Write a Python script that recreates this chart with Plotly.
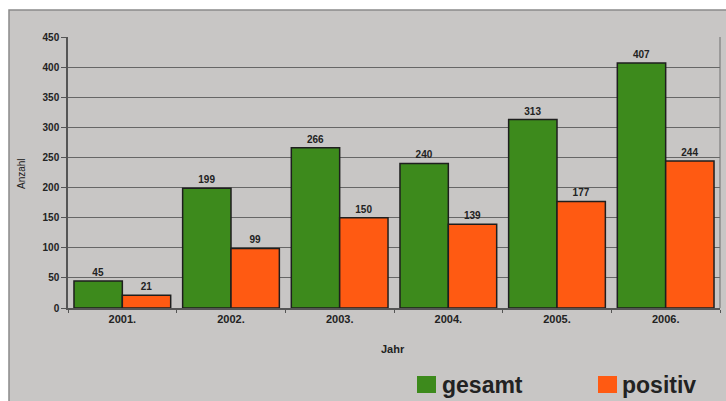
import plotly.graph_objects as go

years = ["2001.", "2002.", "2003.", "2004.", "2005.", "2006."]
gesamt = [45, 199, 266, 240, 313, 407]
positiv = [21, 99, 150, 139, 177, 244]

GREEN = "#3d8a1c"
ORANGE = "#ff5a12"
BG = "#c8c6c5"
FONT = "Liberation Sans"

L, R, T, B = 68, 6, 37, 93
W, H = 726, 401
pw, ph = W - L - R, H - T - B

def px(p):
    return (p - L) / pw

def py(p):
    return (H - B - p) / ph

fig = go.Figure()
for name, vals, col in [("gesamt", gesamt, GREEN), ("positiv", positiv, ORANGE)]:
    fig.add_trace(go.Bar(
        x=years, y=vals, name=name, marker=dict(color=col, line=dict(color="#1e1e1e", width=1.5)),
        text=vals, textposition="outside", cliponaxis=False,
        textfont=dict(family=FONT, size=10, color="#222222", weight="bold"),
        showlegend=False,
    ))

fig.add_shape(type="rect", xref="paper", yref="paper",
              x0=px(9), x1=px(W + 5), y0=py(H + 5), y1=py(10),
              fillcolor=BG, line=dict(color="#8a8a8a", width=1.5), layer="below")

# manual legend
for name, col, x0, x1, tx in [("gesamt", GREEN, 417, 436, 440), ("positiv", ORANGE, 598, 617, 620)]:
    fig.add_shape(type="rect", xref="paper", yref="paper",
                  x0=px(x0), x1=px(x1), y0=py(393), y1=py(376),
                  fillcolor=col, line=dict(width=0))
    fig.add_annotation(xref="paper", yref="paper", x=px(tx), y=py(385),
                       xanchor="left", yanchor="middle", text=name, showarrow=False,
                       font=dict(family=FONT, size=23, weight="bold", color="#222222"))

fig.add_annotation(xref="paper", yref="paper", x=px(21), y=py(174), text="Anzahl",
                   textangle=-90, showarrow=False, xanchor="center", yanchor="middle",
                   font=dict(family=FONT, size=10, color="#222222"))
fig.add_annotation(xref="paper", yref="paper", x=px(393), y=py(349), text="Jahr",
                   showarrow=False, xanchor="center", yanchor="middle",
                   font=dict(family=FONT, size=11, weight="bold", color="#222222"))

fig.update_layout(
    width=W, height=H,
    margin=dict(l=L, r=R, t=T, b=B, autoexpand=False),
    paper_bgcolor="white", plot_bgcolor=BG,
    barmode="group", bargap=0.11, bargroupgap=0,
    font=dict(family=FONT, color="#222222"),
    showlegend=False,
    xaxis=dict(
        showline=True, linecolor="#555555", linewidth=1.5, mirror=False,
        ticks="outside", ticklen=3, tickcolor="#555555", tickson="boundaries",
        tickfont=dict(size=11, weight="bold"), automargin=False,
    ),
    yaxis=dict(
        range=[0, 450], dtick=50, showline=True, linecolor="#555555", linewidth=1.5,
        ticks="outside", ticklen=5, tickcolor="#555555",
        gridcolor="#666666", gridwidth=1.2,
        tickfont=dict(size=10, weight="bold"), automargin=False,
        zeroline=False,
    ),
)
fig.add_shape(type="line", xref="paper", yref="paper", x0=1, x1=1, y0=0, y1=1,
              line=dict(color="#6e6e6e", width=1))

fig.write_html("out.html")
